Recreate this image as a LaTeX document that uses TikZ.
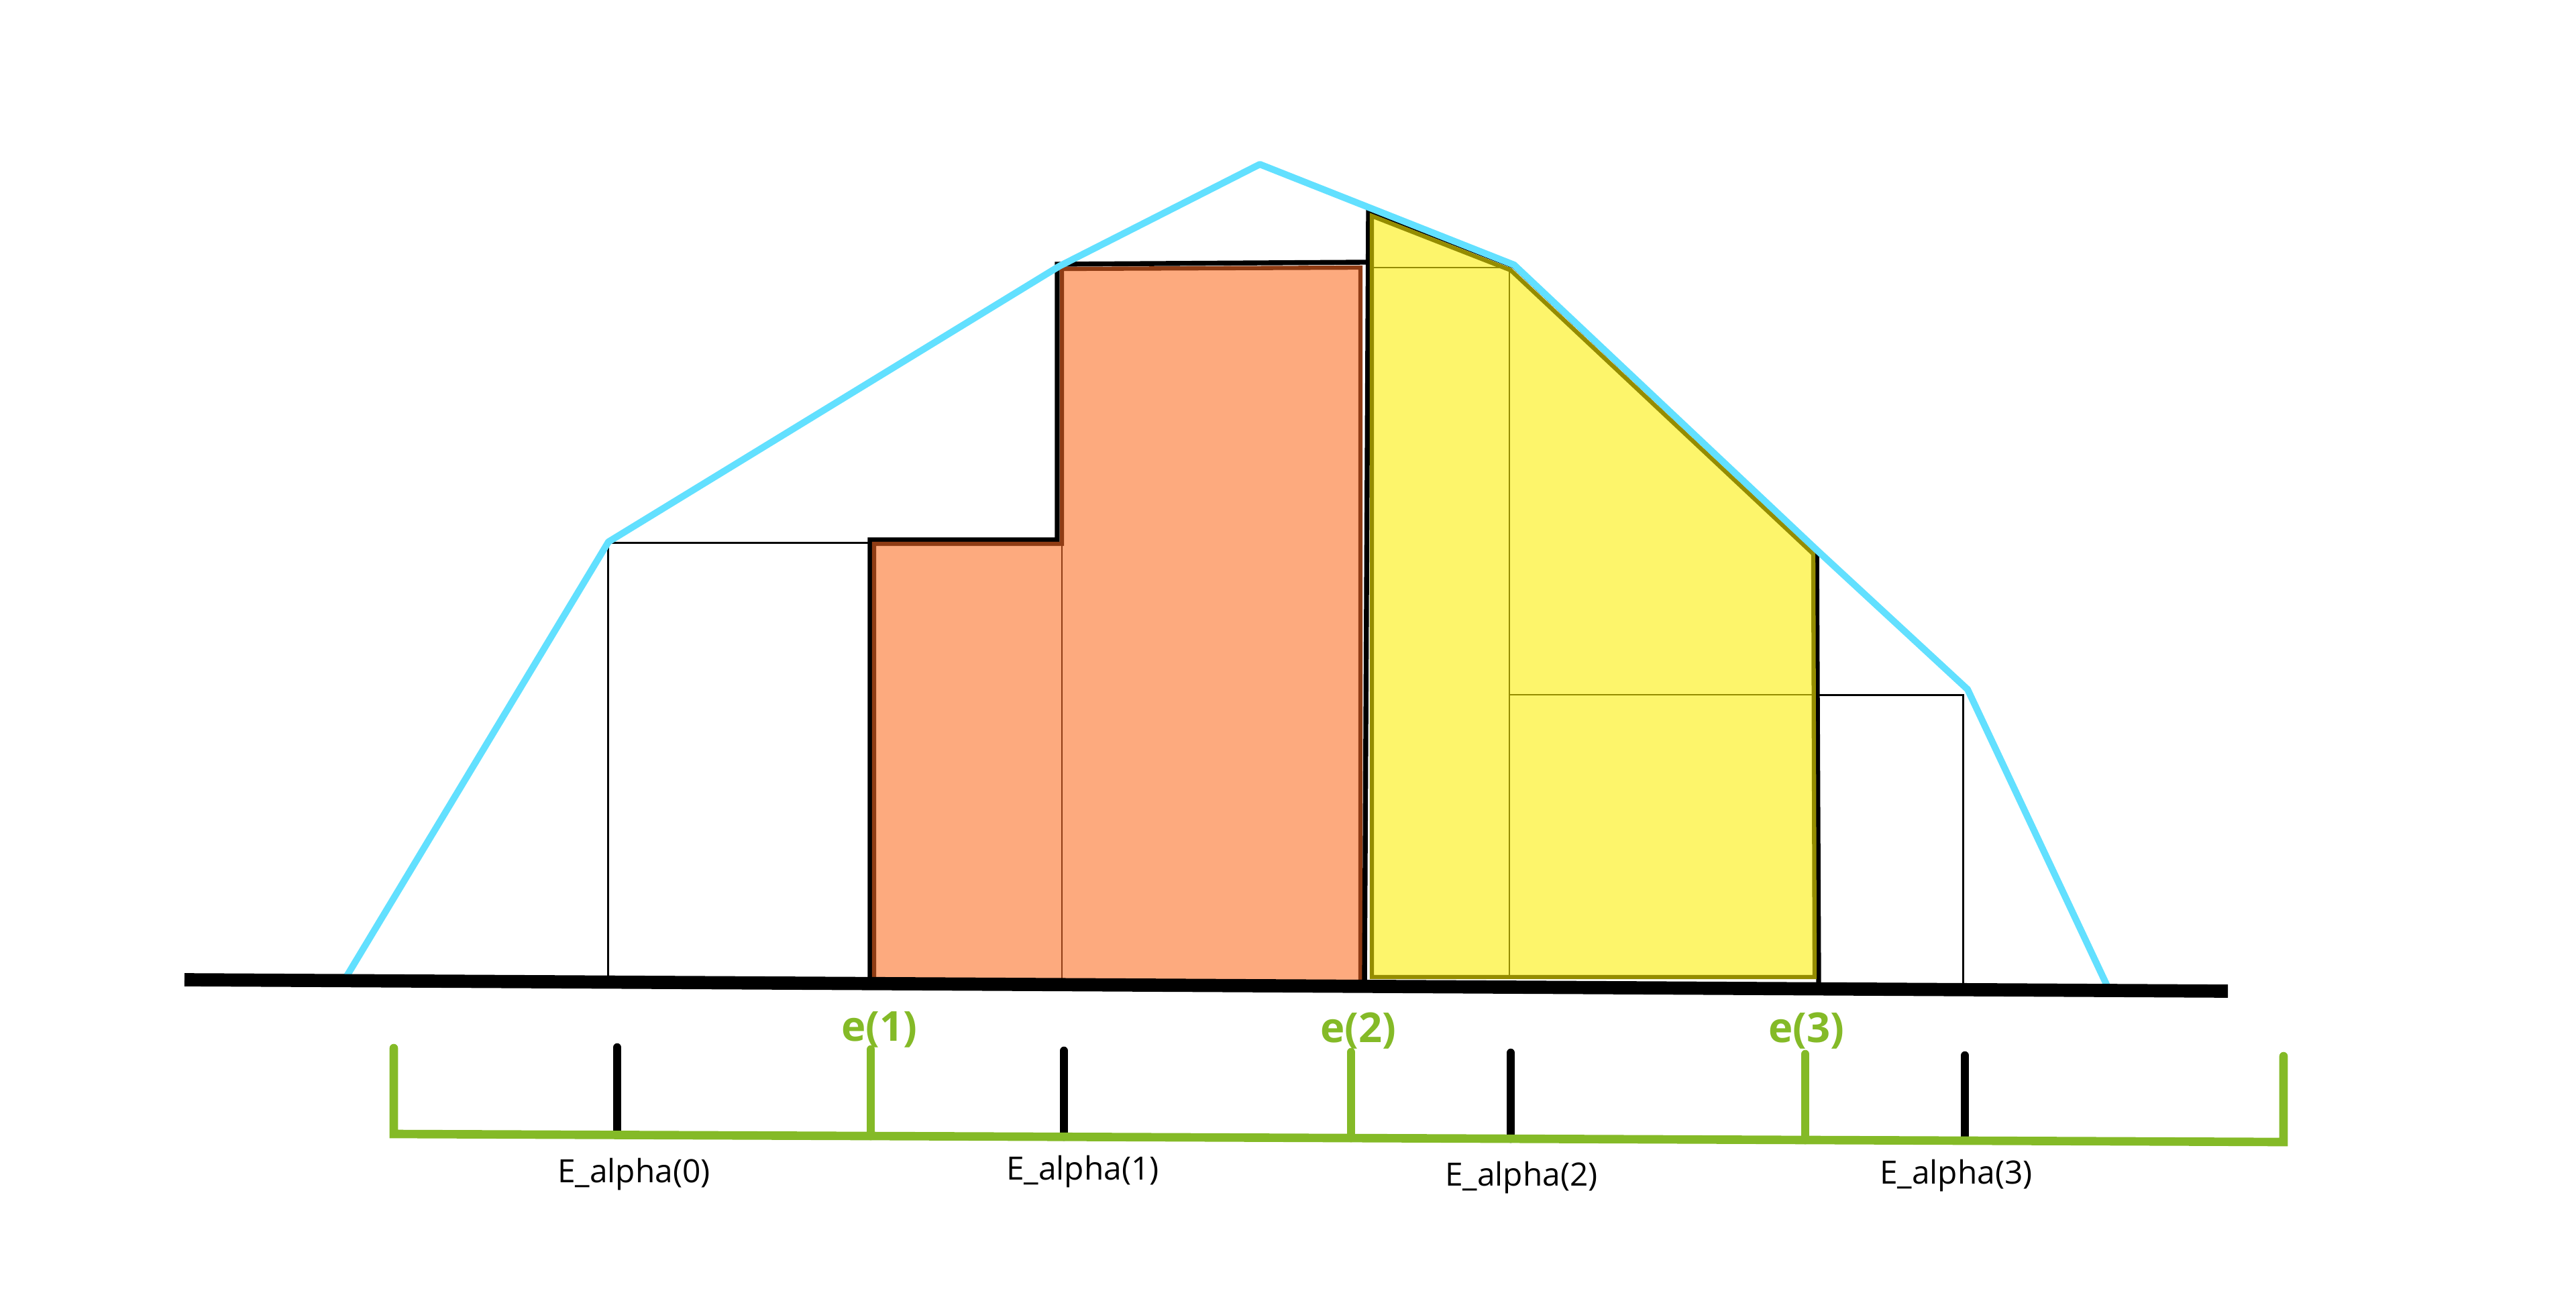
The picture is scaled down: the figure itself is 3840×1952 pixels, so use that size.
\documentclass[tikz,border=0pt]{standalone}
\usepackage{fontspec}
\setmainfont{Open Sans}
\definecolor{skyblue}{RGB}{98,224,255}
\definecolor{salmon}{RGB}{253,170,126}
\definecolor{rust}{RGB}{143,60,20}
\definecolor{lemon}{RGB}{253,245,107}
\definecolor{olive}{RGB}{148,140,0}
\definecolor{leaf}{RGB}{132,186,39}
\tikzset{
  thinline/.style={draw=black,line width=0.85pt},
  blueline/.style={draw=skyblue,line width=2.85pt,line join=round},
  outline/.style={draw=black,line width=2.1pt,line join=miter},
  orangebox/.style={fill=salmon,draw=rust,line width=1.8pt,line join=miter},
  yellowbox/.style={fill=lemon,draw=olive,line width=1.8pt,line join=miter},
  olivethin/.style={draw=olive,line width=0.8pt},
  rustthin/.style={draw=rust,line width=0.6pt},
  groundline/.style={draw=black,line width=5.6pt},
  greenline/.style={draw=leaf,line width=3.6pt,line cap=round,line join=miter},
  tickmark/.style={draw=black,line width=3.6pt,line cap=round},
  elabel/.style={text=leaf,font=\bfseries\fontsize{17.5}{20}\selectfont,inner sep=0pt},
  alabel/.style={font=\fontsize{13.6}{16}\selectfont,inner sep=0pt}
}
\begin{document}
\begin{tikzpicture}[x=0.01cm,y=-0.01cm]
\useasboundingbox (0,0) rectangle (3840,1952);

% thin outline rectangles
\draw[thinline] (906,1462) -- (906,809) -- (1296,809);
\draw[thinline] (2710,1036) -- (2926,1036) -- (2926,1477);

% orange region
\draw[outline] (1297,1464) -- (1297,805) -- (1576,805) -- (1576,394) -- (2036,391);
\draw[orangebox] (1303,1466) -- (1303,811) -- (1583,811) -- (1583,401) -- (2028,399) -- (2028,1468) -- cycle;
\draw[rustthin] (1583,811) -- (1583,1466);

% yellow region
\draw[outline] (2034,1470) -- (2040,313) -- (2257,397) -- (2708,821) -- (2711,1472);
\draw[yellowbox] (2045,1457) -- (2045,322) -- (2252,403) -- (2703,826) -- (2705,1457) -- cycle;
\draw[olivethin] (2045,399) -- (2250,399) -- (2250,1457);
\draw[olivethin] (2250,1036) -- (2703,1036);

% blue envelope
\draw[blueline] (513,1462) -- (907,808) -- (1579,397) -- (1878,245) -- (2257,395)
  -- (2708,820) -- (2933,1028) -- (3141,1470);

% ground line
\draw[groundline] (275,1461) -- (3321,1478);

% bottom scale
\coordinate (b0) at (920,1562);
\coordinate (b1) at (1586,1567);
\coordinate (b2) at (2252,1570);
\coordinate (b3) at (2929,1574);
\draw[thinline,line width=1pt] (920,1697) -- (2929,1697);
\draw[tickmark] (b0) -- (920,1692);
\draw[tickmark] (b1) -- (1586,1695);
\draw[tickmark] (b2) -- (2252,1698);
\draw[tickmark] (b3) -- (2929,1700);

\coordinate (g1) at (1298,1565);
\coordinate (g2) at (2014,1569);
\coordinate (g3) at (2691,1572);
\draw[greenline] (g1) -- (1298,1694);
\draw[greenline] (g2) -- (2014,1697);
\draw[greenline] (g3) -- (2691,1700);
\draw[greenline] (587,1563) -- (587,1691) -- (3404,1703) -- (3404,1575);

% labels
\node[elabel] (e1) at (1311,1535) {e(1)};
\node[elabel] (e2) at (2025,1537) {e(2)};
\node[elabel] (e3) at (2693,1537) {e(3)};
\node[alabel] (a0) at (945,1751) {E\_alpha(0)};
\node[alabel] (a1) at (1614,1747) {E\_alpha(1)};
\node[alabel] (a2) at (2268,1756) {E\_alpha(2)};
\node[alabel] (a3) at (2916,1753) {E\_alpha(3)};
\end{tikzpicture}
\end{document}
